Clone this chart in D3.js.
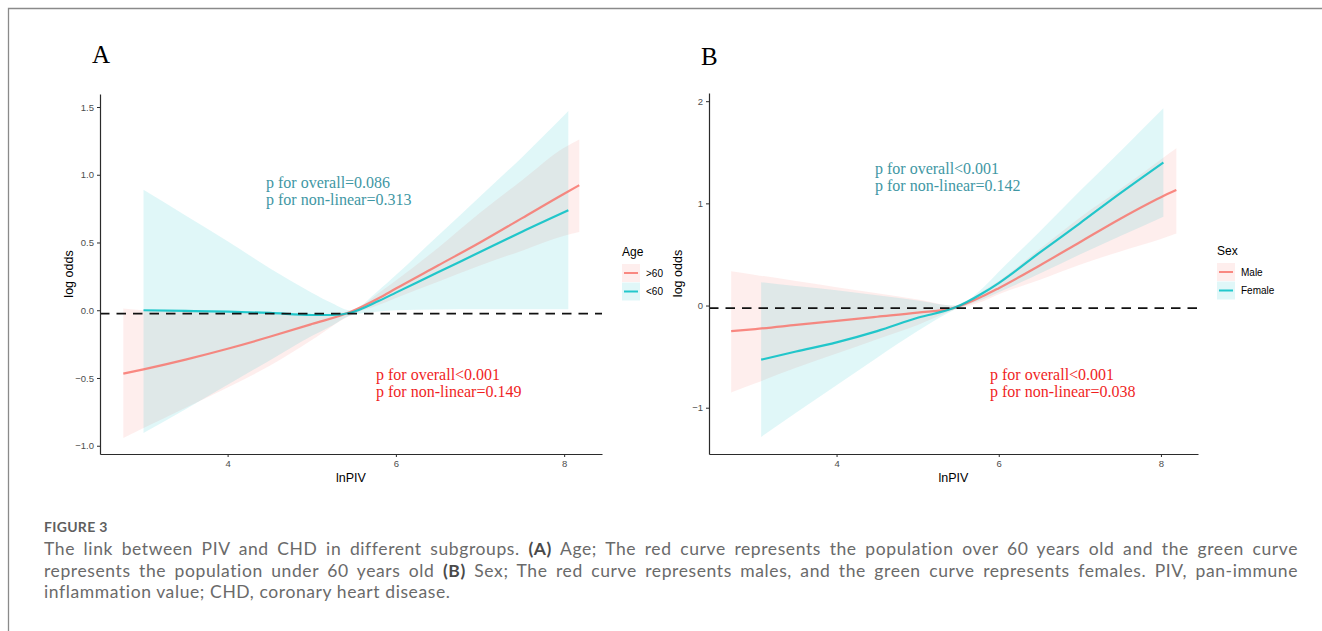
<!DOCTYPE html>
<html>
<head>
<meta charset="utf-8">
<script src="https://cdn.jsdelivr.net/npm/d3@7"></script>
<style>
  body { margin: 0; background: #fff; }
</style>
</head>
<body>
<script>
// ---- data ----
// panel A, age > 60 (red)
const ageOldX = [2.76, 3.0, 3.5, 4.0, 4.5, 5.0, 5.45, 5.8, 6.0, 6.5, 7.0, 7.5, 8.0, 8.18];
const ageOldFit = [-0.468, -0.436, -0.364, -0.284, -0.196, -0.102, -0.015, 0.09, 0.16, 0.33, 0.50, 0.68, 0.86, 0.923];
const ageOldLo = [-0.943, -0.87, -0.72, -0.57, -0.41, -0.22, -0.04, 0.04, 0.09, 0.21, 0.33, 0.44, 0.55, 0.578];
const ageOldHi = [0.013, 0.0, -0.01, -0.02, -0.02, -0.03, -0.01, 0.13, 0.22, 0.46, 0.72, 0.96, 1.20, 1.26];
// panel A, age < 60 (cyan)
const ageYoungX = [3.0, 3.5, 4.0, 4.5, 5.0, 5.25, 5.45, 5.8, 6.0, 6.5, 7.0, 7.5, 8.05];
const ageYoungFit = [0.0, -0.005, -0.01, -0.02, -0.035, -0.035, -0.02, 0.07, 0.13, 0.28, 0.43, 0.58, 0.738];
const ageYoungLo = [-0.906, -0.73, -0.55, -0.37, -0.19, -0.11, -0.04, -0.01, 0.0, 0.005, 0.007, 0.007, 0.007];
const ageYoungHi = [0.89, 0.70, 0.51, 0.31, 0.13, 0.05, 0.0, 0.15, 0.26, 0.55, 0.84, 1.13, 1.47];
// panel B, male (red)
const maleX = [2.70, 3.0, 3.5, 4.0, 4.5, 5.0, 5.46, 5.8, 6.0, 6.5, 7.0, 7.5, 8.0, 8.19];
const maleFit = [-0.25, -0.23, -0.19, -0.15, -0.11, -0.07, -0.02, 0.09, 0.17, 0.39, 0.62, 0.85, 1.06, 1.13];
const maleLo = [-0.85, -0.76, -0.61, -0.47, -0.33, -0.19, -0.04, 0.04, 0.11, 0.25, 0.40, 0.53, 0.65, 0.705];
const maleHi = [0.336, 0.30, 0.24, 0.18, 0.12, 0.06, 0.0, 0.14, 0.24, 0.55, 0.86, 1.14, 1.43, 1.54];
// panel B, female (cyan)
const femaleX = [3.07, 3.5, 4.0, 4.5, 5.0, 5.46, 5.8, 6.0, 6.5, 7.0, 7.5, 8.03];
const femaleFit = [-0.53, -0.45, -0.36, -0.25, -0.12, -0.02, 0.12, 0.22, 0.515, 0.805, 1.10, 1.40];
const femaleLo = [-1.286, -1.05, -0.78, -0.51, -0.25, -0.04, 0.06, 0.13, 0.31, 0.50, 0.68, 0.87];
const femaleHi = [0.228, 0.19, 0.15, 0.10, 0.05, 0.0, 0.17, 0.33, 0.72, 1.12, 1.51, 1.93];

const ageLegend = [">60", "<60"];
const sexLegend = ["Male", "Female"];
const ageYTicks = [-1.0, -0.5, 0.0, 0.5, 1.0, 1.5];
const sexYTicks = [-1, 0, 1, 2];
const xTicks = [4, 6, 8];
const refLineValue = -0.025;

const ageNotes = ["p for overall=0.086", "p for non-linear=0.313", "p for overall<0.001", "p for non-linear=0.149"];
const sexNotes = ["p for overall<0.001", "p for non-linear=0.142", "p for overall<0.001", "p for non-linear=0.038"];

const captionTitle = "FIGURE 3";
const captionLines = [
  [["The link between PIV and CHD in different subgroups. ", false], ["(A)", true], [" Age; The red curve represents the population over 60 years old and the green curve", false]],
  [["represents the population under 60 years old ", false], ["(B)", true], [" Sex; The red curve represents males, and the green curve represents females. PIV, pan-immune", false]],
  [["inflammation value; CHD, coronary heart disease.", false]],
];

// ---- styling ----
const WIDTH = 1322;
const HEIGHT = 631;
const RED = "#F8766D";
const CYAN = "#00BFC4";
const TEAL_TEXT = "#3f97a4";
const RED_TEXT = "#f01f1f";
const BAND_OPACITY = 0.12;
const SANS = "'Liberation Sans', Arial, sans-serif";
const SERIF = "'Liberation Serif', 'Times New Roman', serif";
const CAPTION_FONT = "Lato, 'Open Sans', sans-serif";

const panels = [
  {
    label: "A", labelX: 92, labelY: 63,
    left: 100, right: 602, top: 94, bottom: 454,
    xDomain: [2.483, 8.45], yDomain: [-1.061, 1.596],
    yTicks: ageYTicks, yFormat: d3.format(".1f"),
    legendTitle: "Age", legendX: 622, legendTop: 264,
    notes: ageNotes, noteTop: [266, 188], noteBottom: [376, 380],
    series: [
      { name: ageLegend[0], color: RED, x: ageOldX, fit: ageOldFit, lo: ageOldLo, hi: ageOldHi },
      { name: ageLegend[1], color: CYAN, x: ageYoungX, fit: ageYoungFit, lo: ageYoungLo, hi: ageYoungHi },
    ],
  },
  {
    label: "B", labelX: 701, labelY: 65,
    left: 709, right: 1198, top: 93, bottom: 454,
    xDomain: [2.427, 8.457], yDomain: [-1.453, 2.08],
    yTicks: sexYTicks, yFormat: d3.format("d"),
    legendTitle: "Sex", legendX: 1217, legendTop: 263,
    notes: sexNotes, noteTop: [875, 173.5], noteBottom: [990, 379.5],
    series: [
      { name: sexLegend[0], color: RED, x: maleX, fit: maleFit, lo: maleLo, hi: maleHi },
      { name: sexLegend[1], color: CYAN, x: femaleX, fit: femaleFit, lo: femaleLo, hi: femaleHi },
    ],
  },
];

function rowsOf(s) {
  return s.x.map((v, i) => ({ x: v, fit: s.fit[i], lo: s.lo[i], hi: s.hi[i] }));
}

function drawPanel(svg, p) {
  const x = d3.scaleLinear().domain(p.xDomain).range([p.left, p.right]);
  const y = d3.scaleLinear().domain(p.yDomain).range([p.bottom, p.top]);
  const g = svg.append("g");

  const band = d3.area()
    .x((d) => x(d.x))
    .y0((d) => y(d.lo))
    .y1((d) => y(d.hi))
    .curve(d3.curveMonotoneX);
  const line = d3.line()
    .x((d) => x(d.x))
    .y((d) => y(d.fit))
    .curve(d3.curveMonotoneX);

  p.series.forEach((s) => {
    g.append("path")
      .datum(rowsOf(s))
      .attr("d", band)
      .attr("fill", s.color)
      .attr("fill-opacity", BAND_OPACITY);
  });
  p.series.forEach((s) => {
    g.append("path")
      .datum(rowsOf(s))
      .attr("d", line)
      .attr("fill", "none")
      .attr("stroke", s.color)
      .attr("stroke-opacity", 0.85)
      .attr("stroke-width", 2.2);
  });

  g.append("line")
    .attr("x1", p.left).attr("x2", p.right)
    .attr("y1", y(refLineValue)).attr("y2", y(refLineValue))
    .attr("stroke", "#111")
    .attr("stroke-width", 1.8)
    .attr("stroke-dasharray", "9.5,7");

  const xAxis = g.append("g")
    .attr("transform", `translate(0,${p.bottom})`)
    .call(d3.axisBottom(x).tickValues(xTicks).tickFormat(d3.format("d")).tickSize(3).tickSizeOuter(0).tickPadding(3));
  const yAxis = g.append("g")
    .attr("transform", `translate(${p.left},0)`)
    .call(d3.axisLeft(y).tickValues(p.yTicks).tickFormat(p.yFormat).tickSize(3).tickSizeOuter(0).tickPadding(3));
  [xAxis, yAxis].forEach((a) => {
    a.select(".domain").attr("stroke", "#2b2b2b").attr("stroke-width", 1.2);
    a.selectAll(".tick line").attr("stroke", "#2b2b2b").attr("stroke-width", 1);
    a.selectAll(".tick text").attr("fill", "#4d4d4d").style("font", `9.5px ${SANS}`);
  });

  g.append("text")
    .attr("x", (p.left + p.right) / 2)
    .attr("y", 481.5)
    .attr("text-anchor", "middle")
    .style("font", `12.5px ${SANS}`)
    .text("lnPIV");
  g.append("text")
    .attr("transform", `translate(${p.left - 27},${(p.top + p.bottom) / 2}) rotate(-90)`)
    .attr("text-anchor", "middle")
    .style("font", `12.5px ${SANS}`)
    .text("log odds");

  g.append("text")
    .attr("x", p.labelX).attr("y", p.labelY)
    .style("font", `25px ${SERIF}`)
    .text(p.label);

  // p value notes
  const noteGroups = [
    { pos: p.noteTop, color: TEAL_TEXT, lines: p.notes.slice(0, 2) },
    { pos: p.noteBottom, color: RED_TEXT, lines: p.notes.slice(2) },
  ];
  noteGroups.forEach((n) => {
    g.append("g")
      .selectAll("text")
      .data(n.lines)
      .join("text")
      .attr("x", n.pos[0])
      .attr("y", (d, i) => n.pos[1] + i * 17)
      .attr("fill", n.color)
      .style("font", `16px ${SERIF}`)
      .text((d) => d);
  });

  // legend
  const lg = g.append("g").attr("transform", `translate(${p.legendX},${p.legendTop})`);
  lg.append("text")
    .attr("x", 0).attr("y", -8)
    .style("font", `12px ${SANS}`)
    .text(p.legendTitle);
  const keys = lg.selectAll(".key")
    .data(p.series)
    .join("g")
    .attr("class", "key")
    .attr("transform", (d, i) => `translate(0,${i * 18.5})`);
  keys.append("rect")
    .attr("width", 18).attr("height", 18)
    .attr("fill", (d) => d.color)
    .attr("fill-opacity", BAND_OPACITY);
  keys.append("line")
    .attr("x1", 2).attr("x2", 16)
    .attr("y1", 9).attr("y2", 9)
    .attr("stroke", (d) => d.color)
    .attr("stroke-opacity", 0.85)
    .attr("stroke-width", 2);
  keys.append("text")
    .attr("x", 24).attr("y", 9)
    .attr("dy", "0.35em")
    .style("font", `10px ${SANS}`)
    .text((d) => d.name);
}

function drawCaption(svg) {
  const left = 44;
  const right = 1298;
  svg.append("text")
    .attr("x", left).attr("y", 532)
    .attr("fill", "#5f5f5f")
    .style("font", `bold 14px ${CAPTION_FONT}`)
    .style("letter-spacing", "0.3px")
    .text(captionTitle);

  captionLines.forEach((parts, i) => {
    const t = svg.append("text")
      .attr("x", left)
      .attr("y", 555 + i * 21.7)
      .attr("fill", "#6a6a6a")
      .style("font", `17.5px ${CAPTION_FONT}`)
      .style("letter-spacing", "0.6px");
    parts.forEach(([str, bold]) => {
      t.append("tspan")
        .attr("font-weight", bold ? 700 : 400)
        .attr("fill", bold ? "#4a4a4a" : null)
        .text(str);
    });
    if (i < captionLines.length - 1) {
      const full = parts.map((d) => d[0]).join("");
      const spaces = (full.match(/ /g) || []).length;
      const len = t.node().getComputedTextLength();
      t.style("word-spacing", `${Math.max(0, (right - left - len) / spaces)}px`);
    }
  });
}

const svg = d3.select("body")
  .append("svg")
  .attr("width", WIDTH)
  .attr("height", HEIGHT)
  .attr("viewBox", [0, 0, WIDTH, HEIGHT]);

// page frame
svg.append("path")
  .attr("d", `M8.5,${HEIGHT} V8.5 H${WIDTH}`)
  .attr("fill", "none")
  .attr("stroke", "#8a8a8a")
  .attr("stroke-width", 1.3);

panels.forEach((p) => drawPanel(svg, p));
drawCaption(svg);
</script>
</body>
</html>
